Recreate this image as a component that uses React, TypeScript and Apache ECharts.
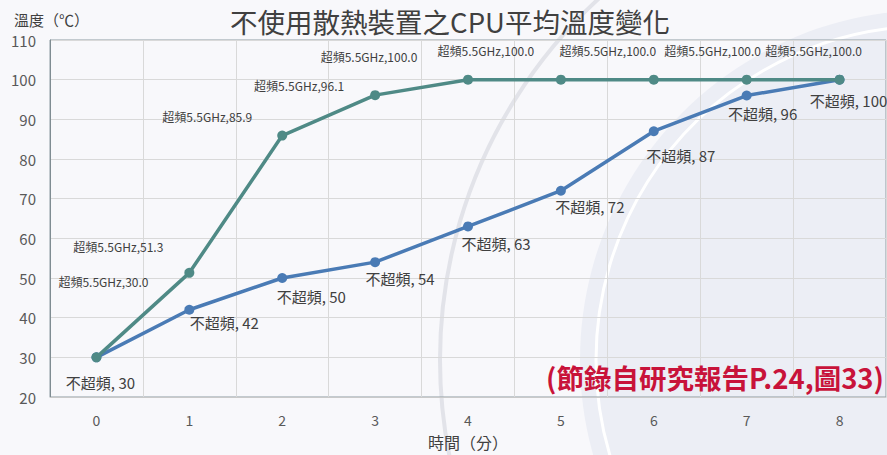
import React, { useEffect, useRef } from "react";
import * as echarts from "echarts";

// ---- data ----
const minutes = ["0", "1", "2", "3", "4", "5", "6", "7", "8"];
const overclockTemps = [30, 51.3, 85.9, 96.1, 100, 100, 100, 100, 100];
const stockTemps = [30, 42, 50, 54, 63, 72, 87, 96, 100];
const overclockName = "超頻5.5GHz";
const stockName = "不超頻";
const titleText = "不使用散熱裝置之CPU平均溫度變化";
const yAxisTitle = "溫度（℃）";
const xAxisTitle = "時間（分）";
const noteText = "(節錄自研究報告P.24,圖33)";

// ---- label placement (style only: offset of each label from its point) ----
const overclockLabelOffsets = [
  [7, -76], [-71, -26], [-75, -19], [-76, -10],
  [-99, -23], [-75, -29], [-46, -29], [-34, -29], [-26, -29],
];
const stockLabelOffsets = [
  [4, 25], [35, 13], [29, 18], [25, 16],
  [28, 17], [29, 16], [27, 24], [16, 18], [9, 21],
];

const FONT = "'Noto Sans CJK TC', 'Noto Sans', sans-serif";
const TEAL = "#4f8a86";
const BLUE = "#4a7bb5";

export default function App() {
  const ref = useRef<HTMLDivElement>(null);

  useEffect(() => {
    if (!ref.current) return;
    const chart = echarts.init(ref.current, undefined, { renderer: "svg" });

    const overclockData = overclockTemps.map((v, i) => ({
      value: v,
      label: { offset: overclockLabelOffsets[i] },
    }));
    const stockData = stockTemps.map((v, i) => ({
      value: v,
      label: { offset: stockLabelOffsets[i] },
    }));

    chart.setOption({
      animation: false,
      backgroundColor: "#f8f8fb",
      textStyle: { fontFamily: FONT },
      grid: {
        left: 50,
        right: 1,
        top: 40,
        bottom: 58,
        outerBoundsMode: "none",
        containLabel: false,
        show: true,
        borderColor: "#8e9ca2",
        borderWidth: 1,
        backgroundColor: "transparent",
      },
      xAxis: {
        type: "category",
        data: minutes,
        boundaryGap: true,
        axisLine: { show: true, lineStyle: { color: "#c9c9c9" } },
        axisTick: { show: false },
        axisLabel: { color: "#595959", fontSize: 14, margin: 16, fontFamily: FONT },
        splitLine: { show: true, lineStyle: { color: "#d9d9d9", width: 1 } },
        name: xAxisTitle,
        nameLocation: "middle",
        nameGap: 37,
        nameTextStyle: { color: "#404040", fontSize: 16, fontFamily: FONT },
      },
      yAxis: {
        type: "value",
        min: 20,
        max: 110,
        interval: 10,
        axisLine: { show: true, lineStyle: { color: "#7f8c92" } },
        axisTick: { show: false },
        axisLabel: { color: "#595959", fontSize: 15, margin: 14, fontFamily: FONT },
        splitLine: { show: true, lineStyle: { color: "#d9d9d9", width: 1 } },
      },
      graphic: [
        {
          type: "circle",
          silent: true,
          z: -10,
          shape: { cx: 930, cy: 360, r: 350 },
          style: { fill: "#eceef5" },
        },
        {
          type: "circle",
          silent: true,
          z: -9,
          shape: { cx: 930, cy: 360, r: 334 },
          style: { fill: "none", stroke: "#ffffff", lineWidth: 3 },
        },
        {
          type: "circle",
          silent: true,
          z: -9,
          shape: { cx: 930, cy: 360, r: 490 },
          style: { fill: "none", stroke: "#e2e3e9", lineWidth: 4 },
        },
        {
          type: "text",
          x: 450,
          y: 21,
          style: {
            text: titleText,
            fill: "#404040",
            font: `27.5px ${FONT}`,
            align: "center",
            verticalAlign: "middle",
          },
        },
        {
          type: "text",
          x: 14,
          y: 19,
          style: {
            text: yAxisTitle,
            fill: "#404040",
            font: `15px ${FONT}`,
            align: "left",
            verticalAlign: "middle",
          },
        },
        {
          type: "text",
          x: 884,
          y: 377,
          z: 20,
          style: {
            text: noteText,
            fill: "#c8133a",
            font: `bold 27.5px ${FONT}`,
            align: "right",
            verticalAlign: "middle",
          },
        },
      ],
      series: [
        {
          name: stockName,
          type: "line",
          data: stockData,
          symbol: "circle",
          symbolSize: 10,
          lineStyle: { color: BLUE, width: 3.5 },
          itemStyle: { color: BLUE },
          label: {
            show: true,
            position: "inside",
            align: "center",
            verticalAlign: "middle",
            color: "#404040",
            fontSize: 15,
            fontFamily: FONT,
            formatter: (p: any) => `${stockName}, ${p.value}`,
          },
          z: 3,
        },
        {
          name: overclockName,
          type: "line",
          data: overclockData,
          symbol: "circle",
          symbolSize: 10,
          lineStyle: { color: TEAL, width: 3.5 },
          itemStyle: { color: TEAL },
          label: {
            show: true,
            position: "inside",
            align: "center",
            verticalAlign: "middle",
            color: "#404040",
            fontSize: 12,
            fontFamily: FONT,
            formatter: (p: any) => `${overclockName},${Number(p.value).toFixed(1)}`,
          },
          z: 4,
        },
      ],
    });

    return () => chart.dispose();
  }, []);

  return (
    <div
      ref={ref}
      style={{ position: "fixed", left: 0, top: 0, width: 887, height: 455 }}
    />
  );
}
